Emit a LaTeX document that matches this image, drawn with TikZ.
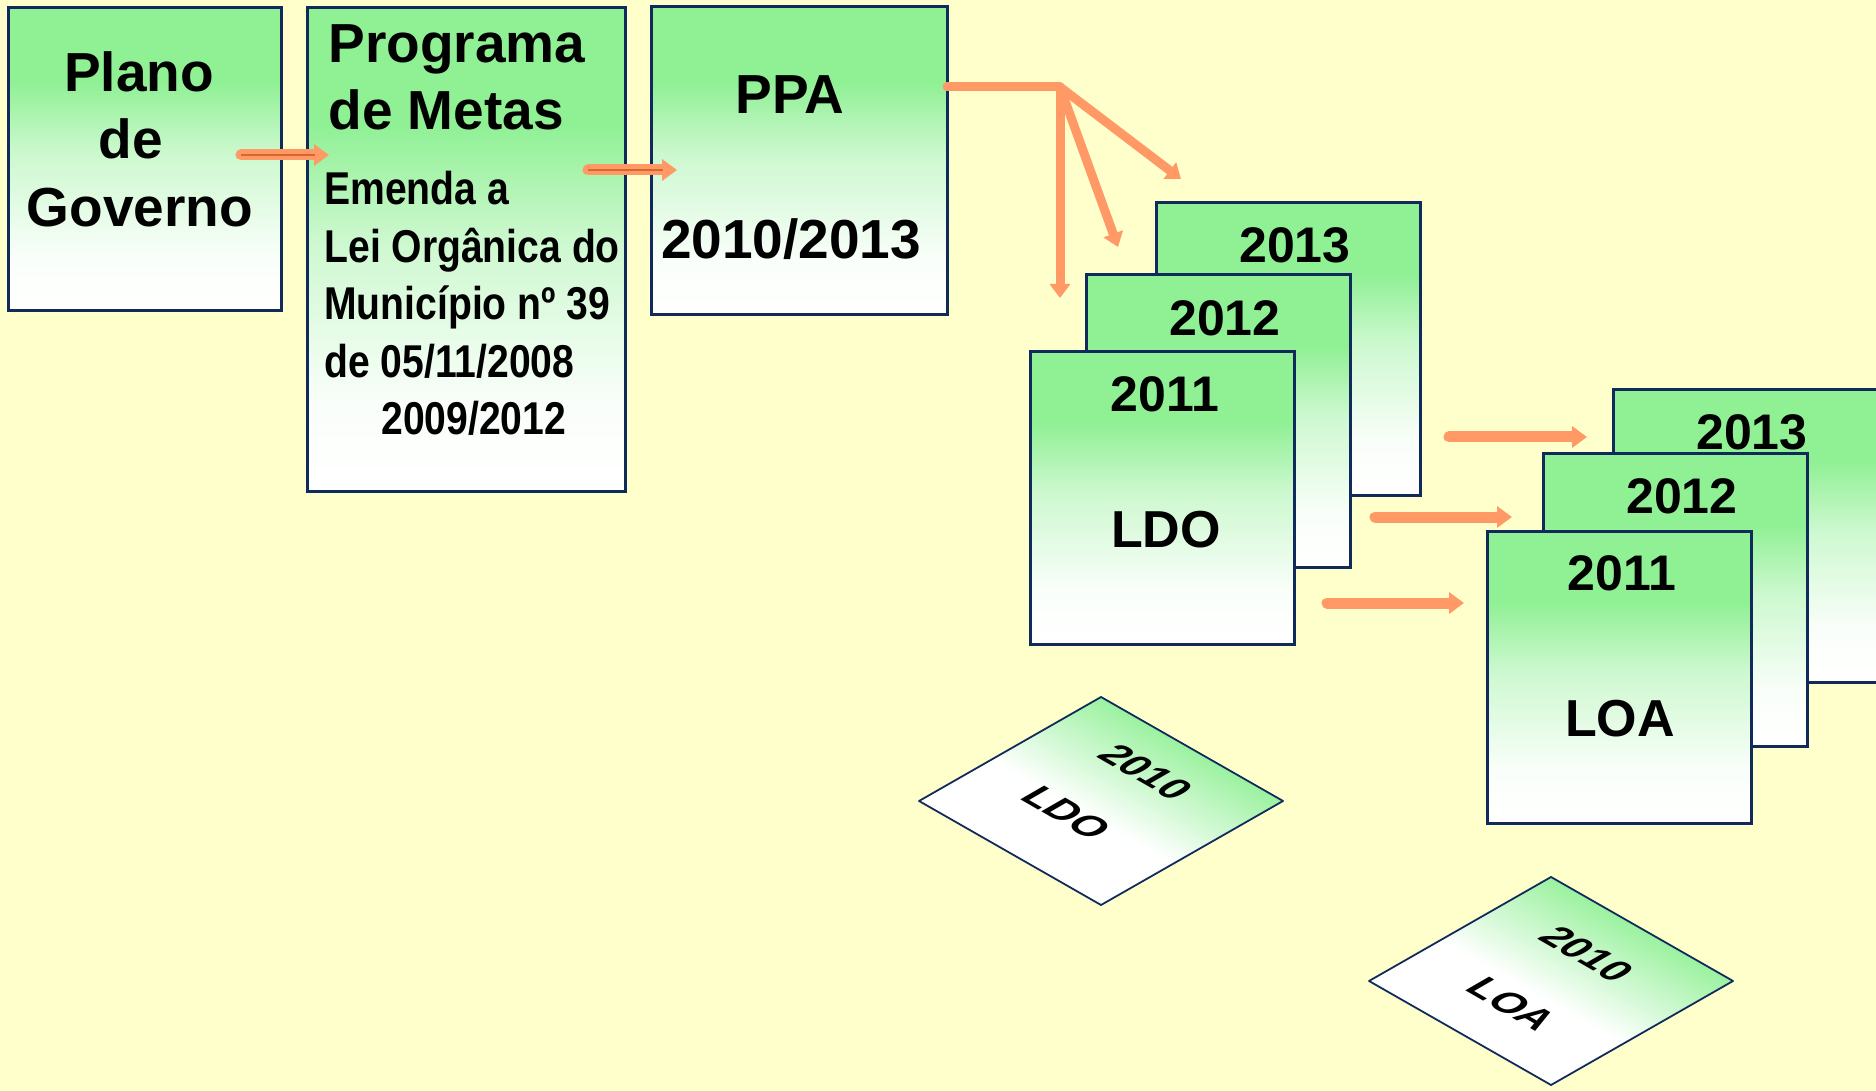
\documentclass[tikz,border=0pt]{standalone}
\usepackage{fontspec}
\setmainfont{Liberation Sans}
\newfontfamily\narrowfont[FakeStretch=0.85]{Liberation Sans}
\usetikzlibrary{arrows.meta,calc}
\definecolor{bg}{RGB}{255,255,204}
\definecolor{gtop}{RGB}{143,240,148}
\definecolor{bord}{RGB}{16,42,92}
\definecolor{arrowc}{RGB}{255,153,102}
\definecolor{arrowd}{RGB}{214,104,44}
\colorlet{gmid}{gtop!45!white}
\colorlet{glow}{gtop!5!white}
\pgfdeclareverticalshading{boxsh}{100bp}{color(0bp)=(white); color(25bp)=(white); color(34bp)=(glow); color(51bp)=(gmid); color(63bp)=(gtop); color(100bp)=(gtop)}
\newcommand\isoplate[4]{%
  \fill[white] (#1) -- (#2) -- (#3) -- (#4) -- cycle;
  \foreach \i in {0,...,29}{
    \pgfmathsetmacro\ta{\i/50}
    \pgfmathsetmacro\tb{(\i+1.3)/50}
    \pgfmathtruncatemacro\pc{88*(1-\i/30)}
    \fill[gtop!\pc!white] ($(#1)!\ta!(#4)$) -- ($(#2)!\ta!(#3)$) -- ($(#2)!\tb!(#3)$) -- ($(#1)!\tb!(#4)$) -- cycle;
  }
  \draw[bord, line width=0.9pt, line join=round] (#1) -- (#2) -- (#3) -- (#4) -- cycle;
}
\tikzset{
  box/.style={draw=bord, line width=1.5pt, shade, shading=boxsh, inner sep=0pt, outer sep=0pt, anchor=north west},
  stackbox/.style={box, minimum width=132pt, minimum height=146pt},
  big/.style={font=\fontsize{27.5}{33}\selectfont\bfseries, inner sep=0pt, anchor=base},
  bigw/.style={big, anchor=base west},
  year/.style={font=\fontsize{25}{30}\selectfont\bfseries, inner sep=0pt, anchor=base},
  doctitle/.style={font=\fontsize{26}{31}\selectfont\bfseries, inner sep=0pt, anchor=base},
  emtext/.style={font=\narrowfont\fontsize{23}{28}\selectfont\bfseries, inner sep=0pt, anchor=base west},
  isotext/.style={font=\fontsize{20}{24}\selectfont\bfseries, inner sep=0pt, transform shape, cm={0.866,-0.5,0.866,0.5,(0,0)}},
  arr/.style={draw=arrowc, line width=5.5pt, line cap=round, -{Triangle[length=7.5pt,width=10.5pt]}},
  innerl/.style={draw=arrowd, line width=0.8pt},
  fan/.style={draw=arrowc, line width=4.5pt, line cap=round, line join=round},
  fanarr/.style={fan, -{Triangle[length=7pt,width=10pt]}}
}
\begin{document}
\begin{tikzpicture}[x=0.5pt,y=-0.5pt]
\useasboundingbox (0,0) rectangle (1876,1091);
\fill[bg] (0,0) rectangle (1876,1091);

% top row boxes
\node[box, minimum width=136.5pt, minimum height=151.5pt] (plano) at (8,8) {};
\node[box, minimum width=159pt, minimum height=241.5pt] (prog) at (307,8) {};
\node[box, minimum width=148pt, minimum height=154pt] (ppa) at (651,7) {};

\node[big] (pl1) at (139,92) {Plano};
\node[big] (pl2) at (131,159) {de};
\node[big] (pl3) at (140,227) {Governo};

\node[bigw] (pr1) at (328,63) {Programa};
\node[bigw] (pr2) at (328,130) {de Metas};
\node[emtext] (em1) at (324,205) {Emenda a};
\node[emtext] (em2) at (324,263) {Lei Orgânica do};
\node[emtext] (em3) at (324,320) {Município nº 39};
\node[emtext] (em4) at (324,378) {de 05/11/2008};
\node[emtext] (em5) at (381,435) {2009/2012};

\node[big] (pp1) at (790,114) {PPA};
\node[big] (pp2) at (791,259) {2010/2013};

% LDO stack
\node[stackbox] (ldo13) at (1156,203) {};
\node[year] (ly13) at (1295,263) {2013};
\node[stackbox] (ldo12) at (1086,275) {};
\node[year] (ly12) at (1225,336) {2012};
\node[stackbox] (ldo11) at (1030,352) {};
\node[year] (ly11) at (1165,412) {2011};
\node[doctitle] (ldot) at (1166,547) {LDO};

% LOA stack
\node[stackbox] (loa13) at (1613,390) {};
\node[year] (oy13) at (1752,450) {2013};
\node[stackbox] (loa12) at (1543,454) {};
\node[year] (oy12) at (1682,513) {2012};
\node[stackbox] (loa11) at (1487,531) {};
\node[year] (oy11) at (1622,590) {2011};
\node[doctitle] (loat) at (1620,736) {LOA};

% arrows between top boxes
\coordinate (a1s) at (241,155);
\coordinate (a1e) at (329,155);
\draw[arr] (a1s) -- (a1e);
\draw[innerl] (a1s) -- ($(a1e)+(-14,0)$);
\coordinate (a2s) at (588,170);
\coordinate (a2e) at (677,170);
\draw[arr] (a2s) -- (a2e);
\draw[innerl] (a2s) -- ($(a2e)+(-14,0)$);

% fan from PPA
\coordinate (jn) at (1060,87);
\coordinate (f1) at (1060,298);
\coordinate (f2) at (1118,247);
\coordinate (f3) at (1181,179);
\draw[fan] (ppa.east |- jn) -- (jn);
\draw[fanarr] (jn) -- (f1);
\draw[fanarr] (jn) -- (f2);
\draw[fanarr] (jn) -- (f3);

% LDO -> LOA arrows
\coordinate (b1s) at (1449,437); \coordinate (b1e) at (1587,437);
\coordinate (b2s) at (1375,517); \coordinate (b2e) at (1512,517);
\coordinate (b3s) at (1327,603); \coordinate (b3e) at (1464,603);
\draw[arr] (b1s) -- (b1e);
\draw[arr] (b2s) -- (b2e);
\draw[arr] (b3s) -- (b3e);

% isometric plates
\coordinate (dT) at (1101,697); \coordinate (dR) at (1283,801);
\coordinate (dB) at (1101,905); \coordinate (dL) at (919,801);
\isoplate{dT}{dR}{dB}{dL}
\node[isotext] (dy) at (1146,772) {2010};
\node[isotext] (dn) at (1067,813) {LDO};

\coordinate (oT) at (1551,877); \coordinate (oR) at (1733,981);
\coordinate (oB) at (1551,1085); \coordinate (oL) at (1369,981);
\isoplate{oT}{oR}{oB}{oL}
\node[isotext] (oy) at (1587,954) {2010};
\node[isotext] (on) at (1512,1004) {LOA};
\end{tikzpicture}
\end{document}
